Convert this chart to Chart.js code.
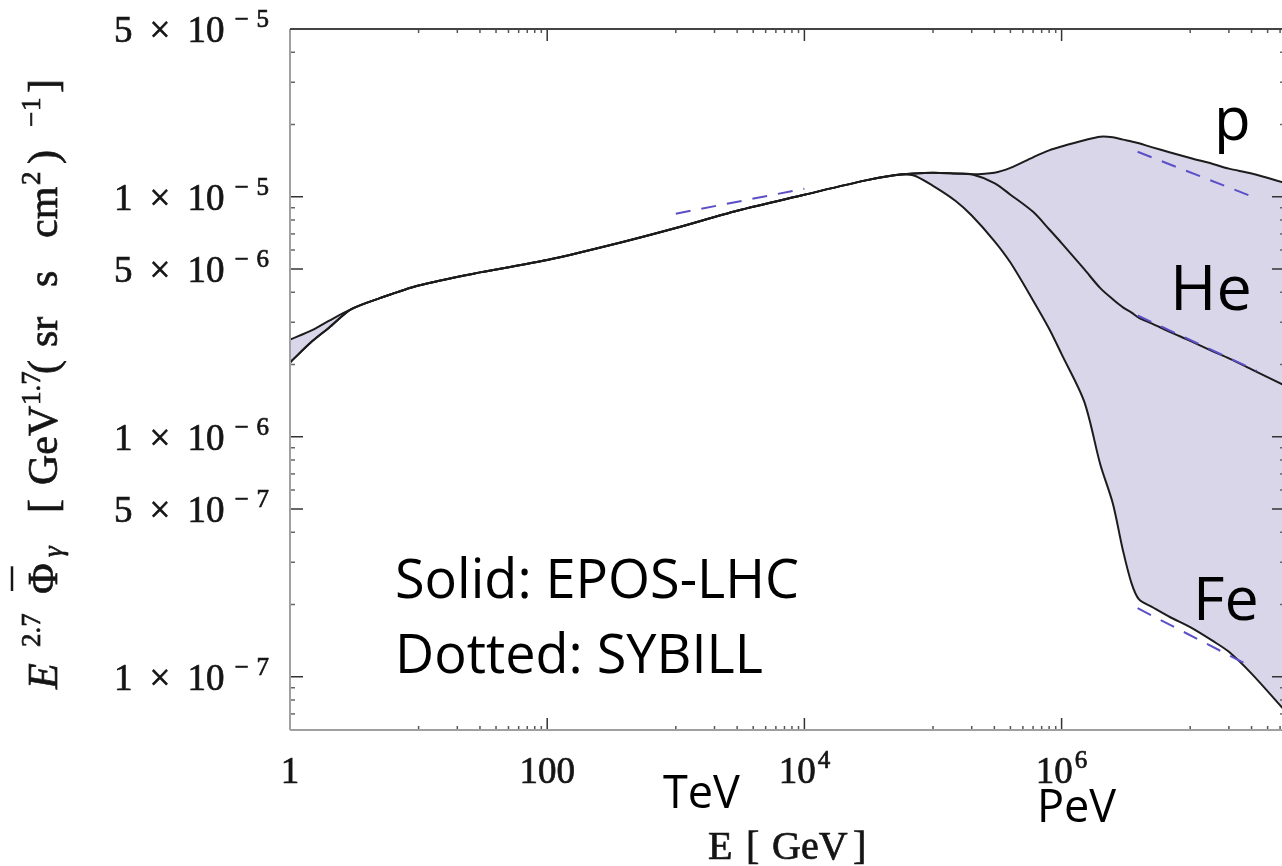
<!DOCTYPE html>
<html>
<head>
<meta charset="utf-8">
<script src="https://cdn.jsdelivr.net/npm/chart.js@4.4.1/dist/chart.umd.min.js"></script>
<style>
  html, body { margin: 0; padding: 0; background: #fff; overflow: hidden; }
  canvas { display: block; }
</style>
</head>
<body>
<canvas id="chart" width="1290" height="866"></canvas>
<script>
// energies (GeV) shared by the three EPOS-LHC curves
var energy = [1, 1.5, 2, 3, 5, 10, 30, 100, 300, 1e3, 3e3, 1e4, 3e4, 5e4, 7e4, 1e5, 1.5e5, 2e5,
  3e5, 4e5, 6e5, 8e5, 1e6, 1.5e6, 2e6, 2.5e6, 3e6, 3.5e6, 4e6, 5e6, 7e6, 1e7, 1.5e7, 2e7, 3e7, 5.5e7];

// E^2.7 flux, solid curves (EPOS-LHC)
var pFlux = [2.04e-6, 2.51e-6, 2.84e-6, 3.40e-6, 3.78e-6, 4.27e-6, 4.84e-6, 5.45e-6, 6.26e-6, 7.41e-6,
  8.75e-6, 1.02e-5, 1.17e-5, 1.23e-5, 1.25e-5, 1.26e-5, 1.25e-5, 1.24e-5,
  1.26e-5, 1.32e-5, 1.46e-5, 1.56e-5, 1.62e-5, 1.72e-5, 1.78e-5, 1.77e-5, 1.73e-5, 1.70e-5, 1.67e-5,
  1.61e-5, 1.53e-5, 1.45e-5, 1.37e-5, 1.31e-5, 1.25e-5, 1.14e-5];
var heFlux = [2.04e-6, 2.51e-6, 2.84e-6, 3.40e-6, 3.78e-6, 4.27e-6, 4.84e-6, 5.45e-6, 6.26e-6, 7.41e-6,
  8.75e-6, 1.02e-5, 1.17e-5, 1.23e-5, 1.25e-5, 1.26e-5, 1.25e-5, 1.24e-5,
  1.14e-5, 1.02e-5, 8.65e-6, 7.32e-6, 6.41e-6, 4.99e-6, 4.16e-6, 3.74e-6, 3.46e-6, 3.29e-6, 3.13e-6,
  2.97e-6, 2.73e-6, 2.51e-6, 2.27e-6, 2.12e-6, 1.91e-6, 1.63e-6];
var feFlux = [2.54e-6, 2.79e-6, 3.04e-6, 3.40e-6, 3.78e-6, 4.27e-6, 4.84e-6, 5.45e-6, 6.26e-6, 7.41e-6,
  8.75e-6, 1.02e-5, 1.17e-5, 1.23e-5, 1.23e-5, 1.11e-5, 9.60e-6, 8.35e-6,
  6.54e-6, 5.32e-6, 3.70e-6, 2.82e-6, 2.21e-6, 1.40e-6, 7.66e-7, 5.28e-7, 3.36e-7, 2.45e-7, 2.10e-7,
  1.96e-7, 1.77e-7, 1.61e-7, 1.41e-7, 1.27e-7, 1.03e-7, 7.18e-8];

// dashed segments (SYBILL)
var sybTevEnergy = [1e3, 1e4],     sybTevFlux = [8.5e-6, 1.08e-5];
var sybPEnergy   = [3.9e6, 3.2e7], sybPFlux   = [1.54e-5, 9.9e-6];
var sybHeEnergy  = [3.9e6, 3.3e7], sybHeFlux  = [3.2e-6, 1.88e-6];
var sybFeEnergy  = [3.9e6, 3.0e7], sybFeFlux  = [1.93e-7, 1.10e-7];

// labelled ticks
var xTicks = [1, 100, 1e4, 1e6];
var yTicks = [5e-5, 1e-5, 5e-6, 1e-6, 5e-7, 1e-7];

var INK = '#1c1c1c', BAND = '#dad6ea', DASH = '#5a4fc6', TEXT = '#151515';
var SERIF = '"Liberation Serif", "DejaVu Serif", serif';
var SANS = '"Open Sans", "Noto Sans", sans-serif';

function pts(xs, ys) {
  return xs.map(function(x, i) { return { x: x, y: ys[i] }; });
}

function solid(label, ys, fill) {
  return {
    label: label, data: pts(energy, ys), order: 1,
    borderColor: INK, borderWidth: 2, pointRadius: 0,
    tension: 0.3,
    fill: fill, backgroundColor: BAND
  };
}

function dashed(label, xs, ys) {
  return {
    label: label, data: pts(xs, ys), order: 0,
    borderColor: DASH, borderWidth: 2, borderDash: [15, 11],
    pointRadius: 0, fill: false
  };
}

function serif(size, italic) {
  return (italic ? 'italic ' : '') + size + 'px ' + SERIF;
}

function seg(ctx, x1, y1, x2, y2) {
  ctx.beginPath(); ctx.moveTo(x1, y1); ctx.lineTo(x2, y2); ctx.stroke();
}

// filled + thin stroke, the scanned serif text looks heavier than a plain fill
function heavyText(ctx, t, x, y) {
  ctx.fillText(t, x, y);
  ctx.strokeText(t, x, y);
}

// parts: [text, size, rise, gapAfter]
function drawParts(ctx, parts, x, y, align) {
  var total = 0;
  parts.forEach(function(p) {
    ctx.font = serif(p[1]);
    total += ctx.measureText(p[0]).width + (p[3] || 0);
  });
  var cx = align === 'right' ? x - total : align === 'center' ? x - total / 2 : x;
  ctx.textAlign = 'left';
  ctx.textBaseline = 'alphabetic';
  parts.forEach(function(p) {
    ctx.font = serif(p[1]);
    heavyText(ctx, p[0], cx, y - p[2]);
    cx += ctx.measureText(p[0]).width + (p[3] || 0);
  });
}

var framePlugin = {
  id: 'frame',
  afterDatasetsDraw: function(chart) {
    var ctx = chart.ctx, a = chart.chartArea, xs = chart.scales.x, ys = chart.scales.y;
    ctx.save();
    ctx.lineWidth = 1.5;
    // y ticks, every 1..9 x 10^k
    for (var k = -8; k <= -5; k++) {
      for (var m = 1; m <= 9; m++) {
        var v = m * Math.pow(10, k);
        if (v < ys.min || v > ys.max * 1.0001) continue;
        var major = yTicks.some(function(t) { return Math.abs(t / v - 1) < 1e-6; });
        var py = ys.getPixelForValue(v), len = major ? 13 : 5;
        ctx.strokeStyle = major ? '#333' : '#666';
        seg(ctx, a.left, py, a.left + len, py);
        seg(ctx, a.right, py, a.right - len, py);
      }
    }
    // x ticks: major at even decades, minor 1..9 x odd decades
    for (var d = 0; d <= 8; d++) {
      for (var n = 1; n <= 9; n++) {
        if (d % 2 === 0 && n > 1) break;
        var xv = n * Math.pow(10, d);
        if (xv > xs.max) continue;
        var px = xs.getPixelForValue(xv), big = d % 2 === 0, l = big ? 12 : 4;
        ctx.strokeStyle = big ? '#333' : '#555';
        seg(ctx, px, a.bottom, px, a.bottom - l);
        seg(ctx, px, a.top, px, a.top + l);
      }
    }
    // frame
    ctx.lineWidth = 2;
    ctx.strokeStyle = '#a0a0a0';
    seg(ctx, a.left, a.top, a.left, a.bottom);
    seg(ctx, a.left, a.bottom, a.right, a.bottom);
    ctx.strokeStyle = '#444';
    seg(ctx, a.left, a.top, a.right, a.top);
    seg(ctx, a.right, a.top, a.right, a.bottom);
    ctx.restore();
  },
  afterDraw: function(chart) {
    var ctx = chart.ctx, xs = chart.scales.x, ys = chart.scales.y;
    ctx.save();
    ctx.fillStyle = TEXT;
    ctx.strokeStyle = TEXT;
    ctx.lineWidth = 0.7;

    // y tick labels  "m x 10^-e"
    yTicks.forEach(function(v) {
      var e = Math.floor(Math.log10(v) + 1e-9), m = Math.round(v / Math.pow(10, e));
      var py = ys.getPixelForValue(v);
      drawParts(ctx, [[String(m), 37, 0, 17], ['\u00d7', 37, 0, 17], ['10', 37, 0, 10],
        ['\u2212', 25, 15, 8], [String(-e), 25, 15, 0]], 269, py + 13, 'right');
    });

    // x tick labels
    xTicks.forEach(function(v) {
      var px = xs.getPixelForValue(v), e = Math.round(Math.log10(v));
      var parts = v < 1000 ? [[String(v), 37, 0, 0]] : [['10', 37, 0, 2], [String(e), 25, 15, 0]];
      drawParts(ctx, parts, px, 783, 'center');
    });

    // x title
    ctx.textAlign = 'left';
    [['E', 708], ['[', 746], ['GeV', 772], [']', 853]].forEach(function(p) {
      ctx.font = serif(40);
      heavyText(ctx, p[0], p[1], 859);
    });

    // y title, rotated; [text, start (page y), size, rise, italic, overbar]
    var title = [
      ['E', 689, 42, 0, true], ['2.7', 647, 27, 17], ['\u03a6', 594, 42, 0, false, true],
      ['\u03b3', 557, 27, -5, true], ['[', 513, 42, 0], ['GeV', 485, 42, 0], ['1.7', 405, 27, 17],
      ['(', 374, 42, 0], ['sr', 347, 42, 0], ['s', 287, 42, 0], ['cm', 238, 42, 0],
      ['2', 185, 27, 17], [')', 164, 42, 0], ['\u2212', 127, 27, 17], ['1', 111, 27, 17], [']', 93, 42, 0]
    ];
    ctx.save();
    ctx.translate(57, 0);
    ctx.rotate(-Math.PI / 2);
    ctx.textAlign = 'left';
    title.forEach(function(t) {
      ctx.font = serif(t[2], t[4]);
      heavyText(ctx, t[0], -t[1], -t[3]);
      if (t[5]) {
        var w = ctx.measureText(t[0]).width;
        ctx.lineWidth = 2.5;
        seg(ctx, -t[1] + 3, -45, -t[1] + w - 3, -45);
        ctx.lineWidth = 0.7;
      }
    });
    ctx.restore();

    // annotations
    ctx.textAlign = 'left';
    ctx.fillStyle = '#000';
    [['Solid: EPOS-LHC', 395, 598, 54], ['Dotted: SYBILL', 395, 673, 54],
     ['p', 1214, 140, 60], ['He', 1170, 310, 63], ['Fe', 1193, 620, 61],
     ['TeV', 663, 808, 45], ['PeV', 1037, 822, 45]].forEach(function(t) {
      ctx.font = t[3] + 'px ' + SANS;
      ctx.fillText(t[0], t[1], t[2]);
    });
    ctx.restore();
  }
};

new Chart(document.getElementById('chart').getContext('2d'), {
  type: 'line',
  data: {
    datasets: [
      solid('p', pFlux, 2),
      solid('He', heFlux, false),
      solid('Fe', feFlux, false),
      dashed('SYBILL TeV', sybTevEnergy, sybTevFlux),
      dashed('SYBILL p', sybPEnergy, sybPFlux),
      dashed('SYBILL He', sybHeEnergy, sybHeFlux),
      dashed('SYBILL Fe', sybFeEnergy, sybFeFlux)
    ]
  },
  options: {
    responsive: false,
    animation: false,
    events: [],
    layout: { padding: { left: 290, right: 5, top: 29, bottom: 136 } },
    plugins: {
      legend: { display: false },
      tooltip: { enabled: false },
      filler: { drawTime: 'beforeDatasetsDraw' }
    },
    scales: {
      x: { type: 'logarithmic', display: false, min: 1, max: 5.46e7 },
      y: { type: 'logarithmic', display: false, min: 6.34e-8, max: 5e-5 }
    }
  },
  plugins: [framePlugin]
});
</script>
</body>
</html>
